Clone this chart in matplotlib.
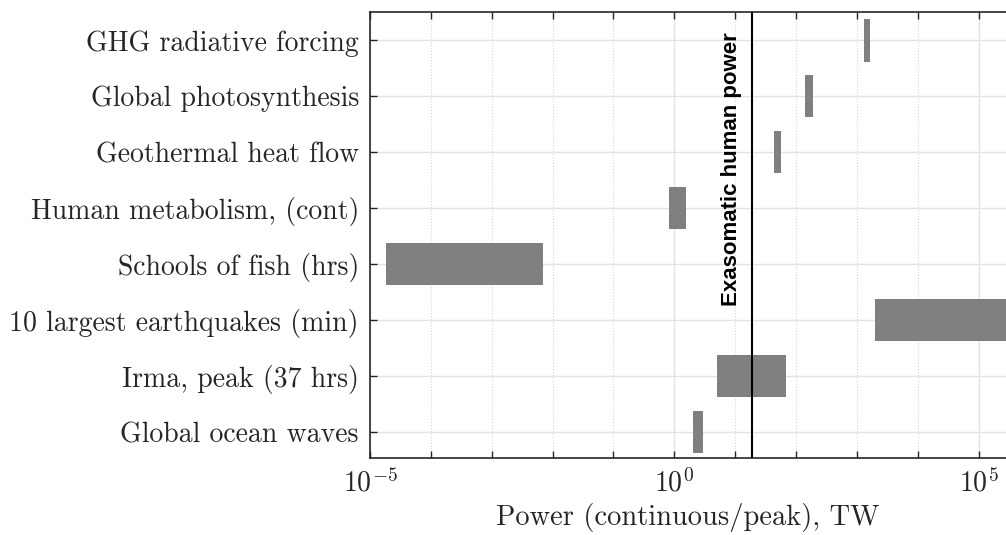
import matplotlib
matplotlib.use("Agg")
import matplotlib.pyplot as plt
import numpy as np
from matplotlib.ticker import FixedLocator, LogFormatterSciNotation, NullFormatter

plt.rcParams['font.family'] = 'cmr10'
plt.rcParams['mathtext.fontset'] = 'cm'
plt.rcParams['axes.formatter.use_mathtext'] = True
plt.rcParams['axes.unicode_minus'] = False

# categories bottom to top
labels = ['Global ocean waves', 'Irma, peak (37 hrs)', '10 largest earthquakes (min)',
          'Schools of fish (hrs)', 'Human metabolism, (cont)', 'Geothermal heat flow',
          'Global photosynthesis', 'GHG radiative forcing']
# power ranges, TW
low = [2.0, 5.0, 2.0e3, 1.8e-5, 0.82, 43, 140, 1300]
high = [2.93, 69, 1.0e6, 7.0e-3, 1.54, 57, 193, 1620]
exosomatic = 18.7

y = np.arange(1, len(labels) + 1)

fig = plt.figure(figsize=(10.06, 5.35), dpi=100)
ax = fig.add_axes([0.3678, 0.1445, 0.6322, 0.8325])

ax.barh(y, np.array(high) - np.array(low), left=low, height=0.76,
        color='#808080', zorder=2)
ax.axvline(exosomatic, color='black', lw=1.5, zorder=3)
ax.annotate('Exasomatic human power', xy=(exosomatic, 3.25), xytext=(-7, 0),
            textcoords='offset points', rotation=90, ha='right', va='bottom',
            family='Liberation Sans', weight='bold', fontsize=16)

ax.set_xscale('log')
ax.set_xlim(1e-5, 10 ** 5.45)
ax.set_ylim(0.54, 8.5)
ax.xaxis.set_major_locator(FixedLocator([1e-5, 1, 1e5]))
ax.xaxis.set_major_formatter(LogFormatterSciNotation())
ax.xaxis.set_minor_locator(FixedLocator(10.0 ** np.arange(-5, 6)))
ax.xaxis.set_minor_formatter(NullFormatter())
ax.set_yticks(y)
ax.set_yticklabels(labels)

ax.tick_params(axis='x', which='both', direction='in', top=True, length=5,
               width=1, colors='#262626', labelsize=20, pad=8)
ax.tick_params(axis='y', direction='in', length=5, width=1, colors='#262626',
               labelsize=20, pad=8)
for lab in ax.get_xticklabels() + ax.get_yticklabels():
    lab.set_color('#262626')

ax.grid(True, which='major', axis='both', color='#e3e3e3', lw=1, zorder=0)
ax.grid(True, which='minor', axis='x', color='#d5d5d5', lw=0.8, ls=':', zorder=0)
ax.set_axisbelow(True)

for s in ['left', 'top', 'bottom']:
    ax.spines[s].set_color('#262626')
    ax.spines[s].set_linewidth(1.2)
ax.spines['right'].set_visible(False)

ax.set_xlabel('Power (continuous/peak), TW', fontsize=20.5, color='#262626', labelpad=4)

fig.savefig('out.png', dpi=100)
